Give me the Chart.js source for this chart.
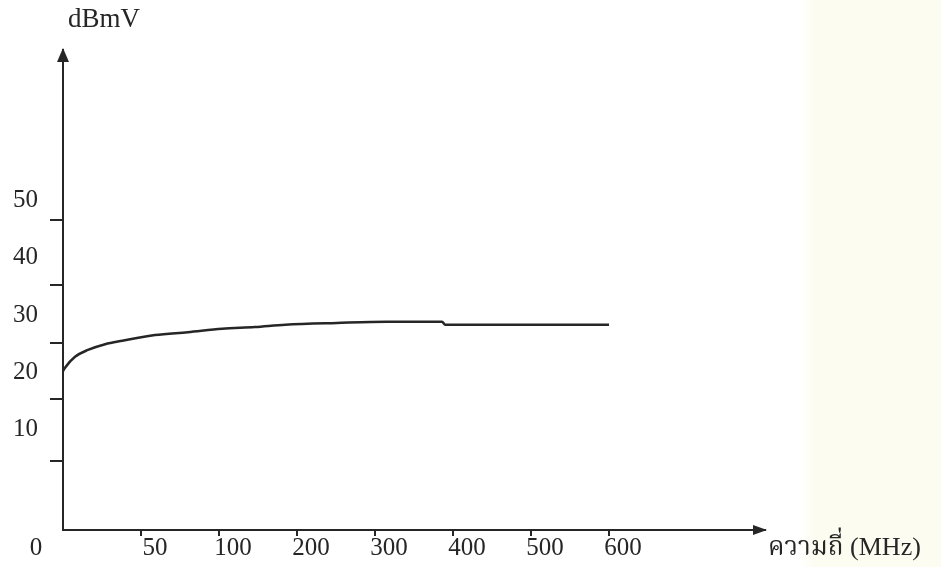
<!DOCTYPE html>
<html lang="th">
<head>
  <meta charset="UTF-8">
  <title>dBmV vs ความถี่</title>
  <script src="https://cdn.jsdelivr.net/npm/chart.js@4.4.1/dist/chart.umd.min.js"></script>
  <style>
    html, body { margin: 0; padding: 0; }
    body {
      width: 941px; height: 567px; overflow: hidden;
      background: linear-gradient(to right, #ffffff 0, #ffffff 800px, #fdfcf1 815px, #fdfcf0 941px);
    }
    #wrap { position: relative; width: 941px; height: 567px; }
  </style>
</head>
<body>
  <div id="wrap"><canvas id="chart"></canvas></div>

  <script>
    // x axis: frequency tick labels (MHz), evenly spaced on the drawing
    const xTickMHz = [0, 50, 100, 200, 300, 400, 500, 600];
    const xTickLabels = ['50', '100', '200', '300', '400', '500', '600'];

    // y axis: printed labels and the little marks (marks sit between labels on the original)
    const yLabelValues = [10, 20, 30, 40, 50];
    const yMarkValues = [4.6, 15.3, 25.1, 35.2, 46.6];

    // curve
    const freqMHz = [0, 1.3, 7.7, 16, 27, 38, 59, 80, 104, 146, 185, 251, 315, 386, 390, 601];
    const levelDbmv = [20.2, 20.8, 22.7, 23.9, 24.9, 25.5, 26.5, 27.0, 27.6, 27.9, 28.3, 28.6, 28.8, 28.8, 28.3, 28.3];

    const ink = '#262626';
    const serif = "'Liberation Serif', 'Noto Serif Thai', 'Noto Sans Thai', 'DejaVu Serif', serif";

    // frequency -> position along the axis (ticks are equally spaced, values are not)
    function mhzToPos(f) {
      for (let i = 1; i < xTickMHz.length; i++) {
        if (f <= xTickMHz[i]) {
          const a = xTickMHz[i - 1], b = xTickMHz[i];
          return (i - 1) + (f - a) / (b - a);
        }
      }
      return xTickMHz.length - 1;
    }

    const points = freqMHz.map((f, i) => ({ x: mhzToPos(f), y: levelDbmv[i] }));

    // arrows, axis names and the origin "0"
    const axisDecor = {
      id: 'axisDecor',
      afterDraw(chart) {
        const { ctx, chartArea } = chart;
        const { left, right, top, bottom } = chartArea;
        ctx.save();
        ctx.fillStyle = ink;

        // y arrow
        ctx.beginPath();
        ctx.moveTo(left, top - 2);
        ctx.lineTo(left - 6, top + 12);
        ctx.lineTo(left + 6, top + 12);
        ctx.closePath();
        ctx.fill();

        // x arrow
        ctx.beginPath();
        ctx.moveTo(right + 2, bottom);
        ctx.lineTo(right - 12, bottom - 5);
        ctx.lineTo(right - 12, bottom + 5);
        ctx.closePath();
        ctx.fill();

        ctx.textBaseline = 'middle';

        ctx.font = '27px ' + serif;
        ctx.textAlign = 'left';
        ctx.fillText('dBmV', left + 5, top - 30);

        ctx.font = '25px ' + serif;
        ctx.textAlign = 'center';
        ctx.fillText('0', left - 27, bottom + 18);

        ctx.font = '26px ' + serif;
        ctx.textAlign = 'left';
        ctx.fillText('ความถี่ (MHz)', right + 3, bottom + 18);
        ctx.restore();
      }
    };

    new Chart(document.getElementById('chart'), {
      type: 'line',
      data: {
        datasets: [{
          data: points,
          borderColor: ink,
          borderWidth: 2.5,
          pointRadius: 0,
          cubicInterpolationMode: 'monotone',
          fill: false
        }]
      },
      options: {
        responsive: true,
        maintainAspectRatio: false,
        animation: false,
        layout: { padding: { left: 1, right: 176, top: 50, bottom: 6 } },
        plugins: { legend: { display: false }, tooltip: { enabled: false } },
        scales: {
          x: {
            type: 'linear',
            min: 0,
            max: 9,
            afterBuildTicks: axis => {
              axis.ticks = xTickLabels.map((_, i) => ({ value: i + 1 }));
            },
            ticks: {
              callback: (value, index) => xTickLabels[index],
              autoSkip: false,
              maxRotation: 0,
              labelOffset: 14,
              padding: 0,
              color: ink,
              font: { family: serif, size: 25, lineHeight: 1 }
            },
            grid: {
              drawOnChartArea: false,
              tickLength: 6,
              color: ink,
              lineWidth: 2
            },
            border: { display: true, color: ink, width: 2 }
          },
          y: {
            type: 'linear',
            min: -7.5,
            max: 76.2,
            afterBuildTicks: axis => {
              axis.ticks = [...yMarkValues, ...yLabelValues]
                .sort((a, b) => a - b)
                .map(v => ({ value: v }));
            },
            ticks: {
              callback: value => yLabelValues.includes(value) ? String(value) : '',
              autoSkip: false,
              padding: 12,
              color: ink,
              font: { family: serif, size: 25 }
            },
            grid: {
              drawOnChartArea: false,
              tickLength: 13,
              lineWidth: 2,
              tickColor: ctx => (ctx.tick && yMarkValues.includes(ctx.tick.value)) ? ink : 'rgba(0,0,0,0)'
            },
            border: { display: true, color: ink, width: 2 }
          }
        }
      },
      plugins: [axisDecor]
    });
  </script>
</body>
</html>
